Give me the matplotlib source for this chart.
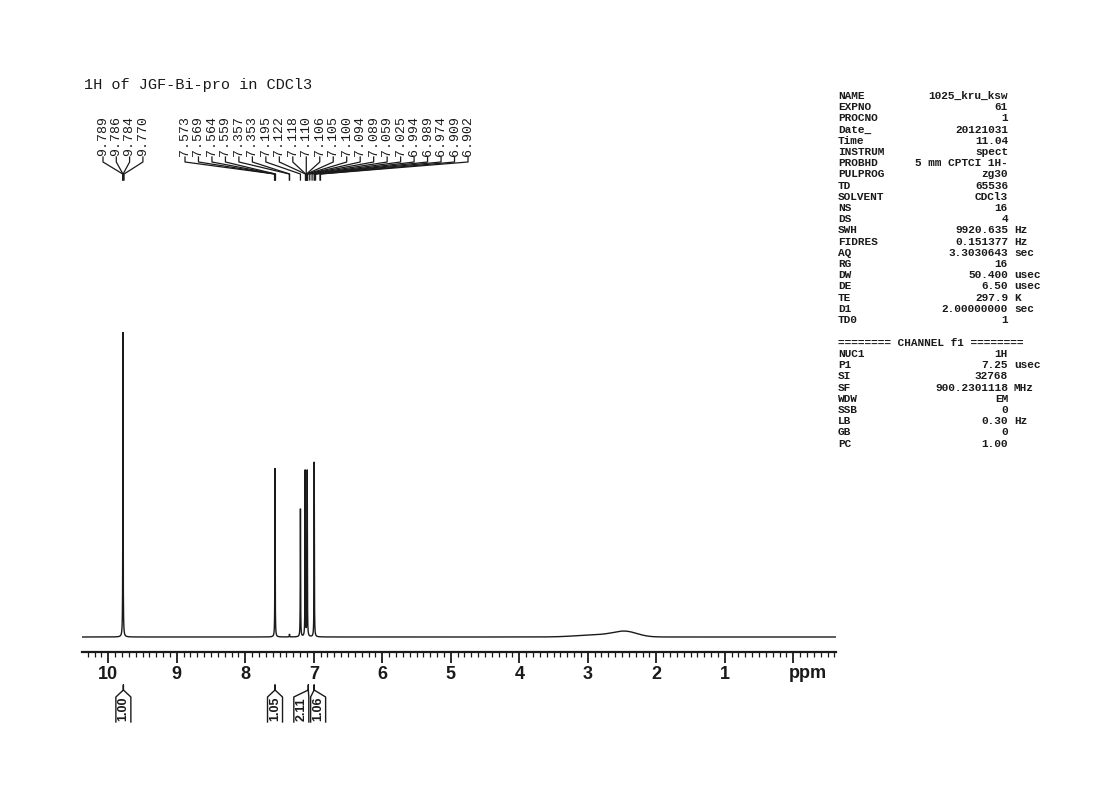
import numpy as np
import matplotlib
matplotlib.use("Agg")
import matplotlib.pyplot as plt
from matplotlib.transforms import Affine2D
from matplotlib.ticker import MultipleLocator, FixedLocator, FixedFormatter

# ---- spectrum data -------------------------------------------------------
title = "1H of JGF-Bi-pro in CDCl3"

# resolved lines (ppm) and their heights (arbitrary units)
line_ppm = [9.786, 7.566, 7.355, 7.195, 7.126, 7.096, 6.994]
line_height = [305, 169, 3, 128, 166, 166, 175]
line_hwhm = 0.0025

# broad exchangeable hump
hump_ppm = [2.45, 2.85]
hump_height = [5.0, 2.2]
hump_sigma = [0.17, 0.30]

# peak-pick labels
pick_group_a = ["9.789", "9.786", "9.784", "9.770"]
pick_group_b = ["7.573", "7.569", "7.564", "7.559", "7.357", "7.353", "7.195",
                "7.122", "7.118", "7.110", "7.106", "7.105", "7.100", "7.094",
                "7.089", "7.059", "7.025", "6.994", "6.989", "6.974", "6.909",
                "6.902"]

# integrals
integral_ppm = [9.78, 7.566, 7.08, 6.995]
integral_value = ["1.00", "1.05", "2.11", "1.06"]
integral_shift = [0, 0, -7, 4]   # body offset in px to keep labels apart

# acquisition / processing parameters
params_main = [
    ("NAME", "1025_kru_ksw", ""), ("EXPNO", "61", ""), ("PROCNO", "1", ""),
    ("Date_", "20121031", ""), ("Time", "11.04", ""), ("INSTRUM", "spect", ""),
    ("PROBHD", "5 mm CPTCI 1H-", ""), ("PULPROG", "zg30", ""),
    ("TD", "65536", ""), ("SOLVENT", "CDCl3", ""), ("NS", "16", ""),
    ("DS", "4", ""), ("SWH", "9920.635", "Hz"), ("FIDRES", "0.151377", "Hz"),
    ("AQ", "3.3030643", "sec"), ("RG", "16", ""), ("DW", "50.400", "usec"),
    ("DE", "6.50", "usec"), ("TE", "297.9", "K"), ("D1", "2.00000000", "sec"),
    ("TD0", "1", ""),
]
params_channel = [
    ("NUC1", "1H", ""), ("P1", "7.25", "usec"), ("SI", "32768", ""),
    ("SF", "900.2301118", "MHz"), ("WDW", "EM", ""), ("SSB", "0", ""),
    ("LB", "0.30", "Hz"), ("GB", "0", ""), ("PC", "1.00", ""),
]

# ---- figure ----------------------------------------------------------------
W, H = 1120, 796
fig = plt.figure(figsize=(W / 100, H / 100), dpi=100)
fig.patch.set_facecolor("white")
# pixel coordinates with origin at the top-left corner
px = Affine2D().scale(1 / W, -1 / H).translate(0, 1) + fig.transFigure

mono = "Liberation Mono"
sans = "Liberation Sans"
ink = "#1a1a1a"

ax = fig.add_axes([82 / W, 1 - 652 / H, (836 - 82) / W, (652 - 320) / H])
ax.set_xlim(10.384, -0.624)
ax.set_ylim(-15, 317)

ppm = np.linspace(10.384, -0.624, 120000)
spec = np.zeros_like(ppm)
for c, h in zip(line_ppm, line_height):
    spec += h * line_hwhm**2 / ((ppm - c) ** 2 + line_hwhm**2)
for c, h, s in zip(hump_ppm, hump_height, hump_sigma):
    spec += h * np.exp(-0.5 * ((ppm - c) / s) ** 2)
ax.plot(ppm, spec, color=ink, lw=1.0, solid_joinstyle="miter")

for s in ("left", "right", "top"):
    ax.spines[s].set_visible(False)
ax.spines["bottom"].set_linewidth(1.6)
ax.spines["bottom"].set_color(ink)
ax.set_yticks([])
ax.xaxis.set_major_locator(FixedLocator(list(range(0, 11))))
ax.xaxis.set_major_formatter(FixedFormatter([""] + [str(i) for i in range(1, 11)]))
ax.xaxis.set_minor_locator(MultipleLocator(0.1))
ax.tick_params(axis="x", which="major", direction="out", length=8, width=1.3,
               color=ink, pad=2, labelsize=13)
ax.tick_params(axis="x", which="minor", direction="out", length=3.5, width=0.9,
               color=ink)
for lab in ax.get_xticklabels():
    lab.set_fontfamily(sans)
    lab.set_fontweight("bold")
    lab.set_color(ink)
ax.set_facecolor("none")

fig.text(808, 673, "ppm", transform=px, ha="center", va="center",
         fontsize=13, fontweight="bold", family=sans, color=ink)

# ---- title -------------------------------------------------------------------
fig.text(84, 85, title, transform=px, ha="left", va="center",
         fontsize=11, family=mono, color=ink)


def xpix(p):
    return ax.transData.transform((p, 0))[0]


# ---- peak-pick labels ------------------------------------------------------
def pick_group(labels, x0, step):
    for i, lab in enumerate(labels):
        lx = x0 + i * step
        pxp = xpix(float(lab))
        fig.text(lx, 156, lab, transform=px, rotation=90, ha="center",
                 va="bottom", fontsize=9.5, family=mono, color=ink)
        fig.add_artist(plt.Line2D([lx, lx, pxp, pxp], [157, 162, 174, 180],
                                  transform=px, color=ink, lw=0.9))


pick_group(pick_group_a, 103, 13.3)
pick_group(pick_group_b, 185, (468 - 185) / (len(pick_group_b) - 1))

# ---- integrals ---------------------------------------------------------------
for c, val, dx in zip(integral_ppm, integral_value, integral_shift):
    sx = xpix(c)
    bx = sx + dx
    hw = 7.5
    fig.add_artist(plt.Line2D([bx - hw, bx - hw, sx, sx, sx, bx + hw, bx + hw],
                              [722, 697, 690, 685, 690, 697, 722],
                              transform=px, color=ink, lw=1.0))
    fig.text(bx, 709, val, transform=px, rotation=90, ha="center", va="center",
             fontsize=9, fontweight="bold", family=sans, color=ink)

# ---- parameter table -------------------------------------------------------
def param_rows(rows, y0):
    for i, (k, v, u) in enumerate(rows):
        y = y0 + i * 11.2
        fig.text(838, y, k, transform=px, ha="left", va="center",
                 fontsize=8, family=mono, fontweight="bold", color=ink)
        fig.text(1008, y, v, transform=px, ha="right", va="center",
                 fontsize=8, family=mono, fontweight="bold", color=ink)
        if u:
            fig.text(1014, y, u, transform=px, ha="left", va="center",
                     fontsize=8, family=mono, fontweight="bold", color=ink)


param_rows(params_main, 96)
fig.text(838, 343, "======== CHANNEL f1 ========", transform=px, ha="left",
         va="center", fontsize=8, family=mono, fontweight="bold", color=ink)
param_rows(params_channel, 354)

fig.savefig("out.png", dpi=100, facecolor="white")
